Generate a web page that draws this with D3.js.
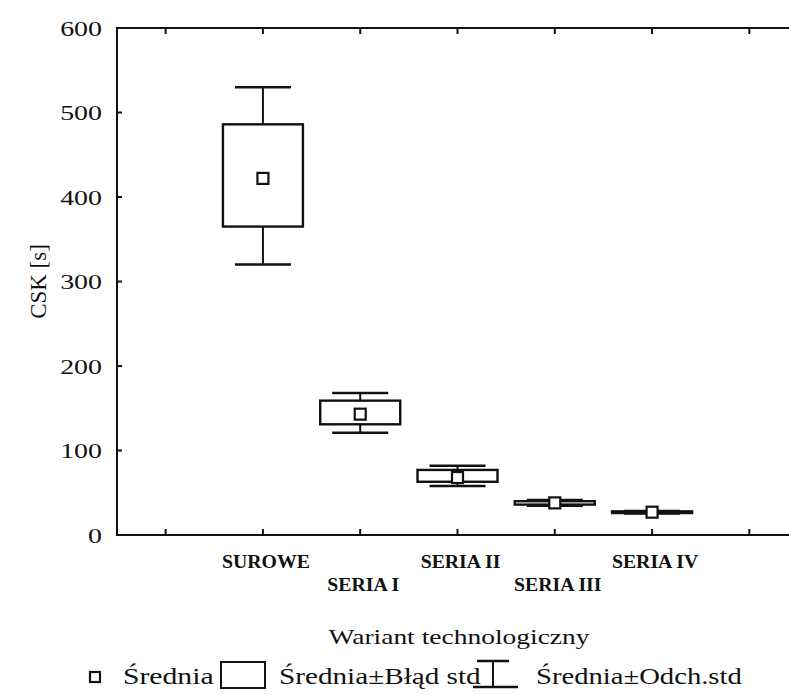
<!DOCTYPE html>
<html>
<head>
<meta charset="utf-8">
<script src="https://cdn.jsdelivr.net/npm/d3@7"></script>
<style>
html,body{margin:0;padding:0;background:#fff;}
svg{display:block;}
text{font-family:"Liberation Serif","Times New Roman",serif;fill:#111;}
</style>
</head>
<body>
<script>
// ---- data ----
const categories = ["SUROWE", "SERIA I", "SERIA II", "SERIA III", "SERIA IV"];
const means  = [422, 143, 68, 38, 27];
const seLow  = [365, 131, 63, 36, 26];
const seHigh = [486, 159, 77, 40, 28];
const sdLow  = [320, 121, 58, 34.5, 25.5];
const sdHigh = [530, 168, 82, 41.5, 28.5];
const yTicks = [0, 100, 200, 300, 400, 500, 600];
const yLabel = "CSK [s]";
const xLabel = "Wariant technologiczny";
const legendLabels = ["Średnia", "Średnia±Błąd std", "Średnia±Odch.std"];

(function () {
const W = 789, H = 695;
const svg = d3.select("body").append("svg").attr("width", W).attr("height", H);

const pLeft = 117, pRight = 798, pTop = 28, pBottom = 535;
// 7 slots: empty, 5 categories, empty
const x = d3.scaleLinear().domain([0, categories.length + 2]).range([pLeft, pRight]);
const y = d3.scaleLinear().domain([0, 600]).range([pBottom, pTop]);
const cx = i => x(i + 1.5);

function stext(g, str, px, py, size, anchor, sx, weight) {
  return g.append("text")
    .attr("font-size", size)
    .attr("font-weight", weight || "normal")
    .attr("text-anchor", anchor)
    .attr("transform", `translate(${px},${py}) scale(${sx},1)`)
    .text(str);
}

const black = "#111";

const axes = svg.append("g").attr("stroke", black).attr("stroke-width", 2).attr("fill", "none");
axes.append("line").attr("x1", pLeft).attr("x2", pLeft).attr("y1", pTop - 1).attr("y2", pBottom + 1);
axes.append("line").attr("x1", pLeft).attr("x2", W).attr("y1", pBottom).attr("y2", pBottom);
axes.append("line").attr("x1", pLeft).attr("x2", W).attr("y1", pTop).attr("y2", pTop);

const slotTicks = d3.range(categories.length + 2).map(i => i + 0.5);
slotTicks.forEach(t => {
  axes.append("line").attr("x1", x(t)).attr("x2", x(t)).attr("y1", pBottom).attr("y2", pBottom - 6);
  axes.append("line").attr("x1", x(t)).attr("x2", x(t)).attr("y1", pTop).attr("y2", pTop + 6);
});
yTicks.forEach(v => {
  axes.append("line").attr("x1", pLeft).attr("x2", pLeft + 5).attr("y1", y(v)).attr("y2", y(v));
});

const tl = svg.append("g");
yTicks.forEach(v => {
  stext(tl, String(v), 102, y(v) + 7.5, 22, "end", 1.27);
});

svg.append("text")
  .attr("font-size", 20)
  .attr("text-anchor", "middle")
  .attr("transform", `translate(46,${y(300)}) rotate(-90) scale(1.15,1.2)`)
  .text(yLabel);

const cl = svg.append("g");
categories.forEach((c, i) => {
  const yy = i % 2 === 0 ? 568 : 591;
  stext(cl, c, cx(i) + 3, yy, 18, "middle", 1.1, "bold");
});

stext(svg, xLabel, 459, 644, 22, "middle", 1.25);

const boxW = 80, capW = 56;
const g = svg.append("g").attr("stroke", black).attr("fill", "none");
categories.forEach((c, i) => {
  const xc = cx(i);
  g.append("line").attr("x1", xc).attr("x2", xc).attr("y1", y(sdHigh[i])).attr("y2", y(seHigh[i])).attr("stroke-width", 2);
  g.append("line").attr("x1", xc).attr("x2", xc).attr("y1", y(seLow[i])).attr("y2", y(sdLow[i])).attr("stroke-width", 2);
  g.append("line").attr("x1", xc - capW / 2).attr("x2", xc + capW / 2).attr("y1", y(sdHigh[i])).attr("y2", y(sdHigh[i])).attr("stroke-width", 2.5);
  g.append("line").attr("x1", xc - capW / 2).attr("x2", xc + capW / 2).attr("y1", y(sdLow[i])).attr("y2", y(sdLow[i])).attr("stroke-width", 2.5);
  g.append("rect").attr("x", xc - boxW / 2).attr("width", boxW)
    .attr("y", y(seHigh[i])).attr("height", y(seLow[i]) - y(seHigh[i]))
    .attr("fill", "#fff").attr("stroke-width", 2.4);
  g.append("rect").attr("x", xc - 5.5).attr("y", y(means[i]) - 5.5).attr("width", 11).attr("height", 11)
    .attr("fill", "#fff").attr("stroke-width", 2.2);
});

const lg = svg.append("g");
const ly = 684;
lg.append("rect").attr("x", 90).attr("y", ly - 12).attr("width", 10).attr("height", 10)
  .attr("fill", "#fff").attr("stroke", black).attr("stroke-width", 2.2);
stext(lg, legendLabels[0], 123, ly, 23, "start", 1.29);
lg.append("rect").attr("x", 221).attr("y", ly - 22).attr("width", 44).attr("height", 26)
  .attr("fill", "#fff").attr("stroke", black).attr("stroke-width", 2);
stext(lg, legendLabels[1], 279, ly, 23, "start", 1.27);
lg.append("line").attr("x1", 477).attr("x2", 509).attr("y1", ly - 23).attr("y2", ly - 23).attr("stroke", black).attr("stroke-width", 2.5);
lg.append("line").attr("x1", 493).attr("x2", 493).attr("y1", ly - 23).attr("y2", ly + 3).attr("stroke", black).attr("stroke-width", 2);
lg.append("line").attr("x1", 473).attr("x2", 518).attr("y1", ly + 3).attr("y2", ly + 3).attr("stroke", black).attr("stroke-width", 2.5);
stext(lg, legendLabels[2], 536, ly, 23, "start", 1.245);
})();
</script>
</body>
</html>
